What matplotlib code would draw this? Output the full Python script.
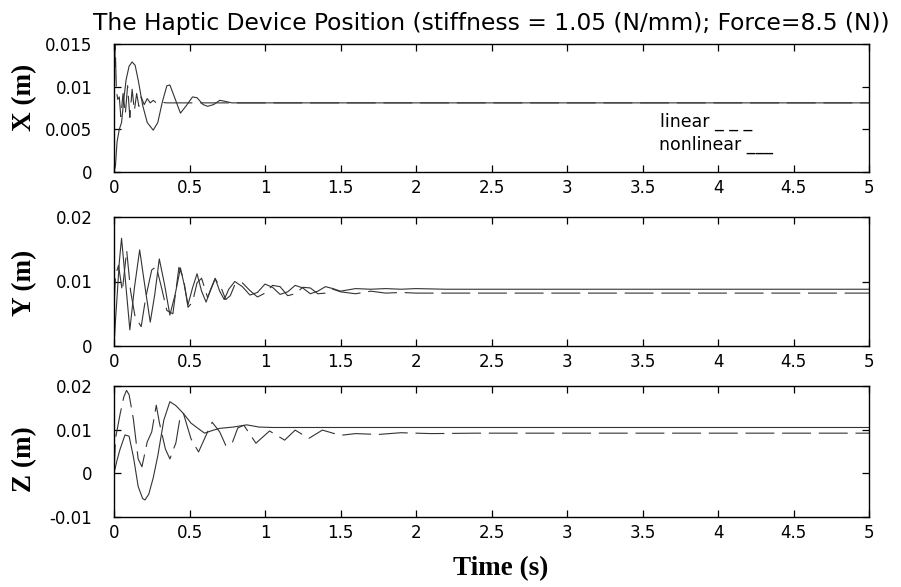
import matplotlib
matplotlib.use("Agg")
import matplotlib.pyplot as plt

# ---- data: haptic device position, linear vs nonlinear model ----
x_nl_t = [0, 0.01, 0.02, 0.035, 0.05, 0.065, 0.08, 0.1, 0.12, 0.14, 0.16, 0.19, 0.22, 0.26,
          0.29, 0.32, 0.35, 0.37, 0.4, 0.44, 0.48, 0.52, 0.55, 0.59, 0.62, 0.66, 0.7, 0.73,
          0.78, 0.85, 1.0, 5.0]
x_nl_v = [0, 0.0008, 0.0035, 0.005, 0.0058, 0.0085, 0.0108, 0.0124, 0.0129, 0.0125, 0.0108,
          0.0078, 0.0058, 0.0049, 0.0058, 0.0082, 0.0101, 0.0102, 0.0088, 0.0069, 0.0078,
          0.0088, 0.0087, 0.0079, 0.0077, 0.0079, 0.0084, 0.0083, 0.0081, 0.0081, 0.0081, 0.0081]
x_lin_t = [0, 0.008, 0.016, 0.025, 0.035, 0.045, 0.06, 0.075, 0.09, 0.105, 0.12, 0.135, 0.15,
           0.165, 0.18, 0.2, 0.22, 0.24, 0.26, 0.28, 0.3, 0.35, 5.0]
x_lin_v = [0.008, 0.015, 0.0095, 0.0085, 0.0088, 0.0065, 0.0092, 0.0068, 0.0101, 0.0064,
           0.0097, 0.0072, 0.0092, 0.0077, 0.0088, 0.0079, 0.0086, 0.0081, 0.0084, 0.0081,
           0.0082, 0.0081, 0.0081]

y_nl_t = [0, 0.01, 0.02, 0.035, 0.05, 0.08, 0.105, 0.135, 0.17, 0.2, 0.24, 0.27, 0.3, 0.335,
          0.37, 0.405, 0.44, 0.465, 0.49, 0.52, 0.55, 0.58, 0.61, 0.64, 0.67, 0.7, 0.73, 0.76,
          0.8, 0.85, 0.9, 0.95, 1.0, 1.05, 1.1, 1.15, 1.2, 1.25, 1.3, 1.35, 1.4, 1.45, 1.5,
          1.6, 1.7, 1.8, 1.9, 2.0, 2.2, 5.0]
y_nl_v = [0, 0.004, 0.0075, 0.013, 0.0167, 0.009, 0.0025, 0.009, 0.0149, 0.01, 0.0037, 0.008,
          0.0135, 0.0095, 0.0048, 0.008, 0.0121, 0.0095, 0.0064, 0.009, 0.0112, 0.0085, 0.0068,
          0.0088, 0.0105, 0.0085, 0.0072, 0.0088, 0.0100, 0.0092, 0.0079, 0.0083, 0.0096,
          0.0091, 0.0080, 0.0084, 0.0094, 0.009, 0.0081, 0.0085, 0.0092, 0.0089, 0.0085,
          0.0089, 0.0088, 0.0089, 0.0088, 0.0089, 0.0088, 0.0088]
y_lin_t = [0, 0.01, 0.03, 0.055, 0.084, 0.11, 0.14, 0.18, 0.21, 0.25, 0.28, 0.31, 0.35, 0.39,
           0.43, 0.46, 0.49, 0.52, 0.55, 0.58, 0.62, 0.67, 0.71, 0.74, 0.77, 0.8, 0.85, 0.9,
           0.95, 1.0, 1.05, 1.1, 1.15, 1.2, 1.25, 1.3, 1.35, 1.4, 1.45, 1.5, 1.6, 1.7, 1.8,
           1.9, 2.0, 2.2, 5.0]
y_lin_v = [0.006, 0.011, 0.0125, 0.0085, 0.0148, 0.0085, 0.0045, 0.003, 0.0075, 0.0118,
           0.0123, 0.0095, 0.0055, 0.005, 0.0122, 0.0105, 0.006, 0.0068, 0.0098, 0.0105,
           0.0075, 0.0104, 0.009, 0.0072, 0.0078, 0.0095, 0.0098, 0.0086, 0.0076, 0.0082,
           0.0094, 0.0092, 0.0078, 0.0081, 0.0091, 0.009, 0.0081, 0.0082, 0.0088, 0.0084,
           0.0081, 0.0085, 0.0082, 0.0083, 0.0082, 0.0082, 0.0082]

z_nl_t = [0, 0.02, 0.04, 0.073, 0.1, 0.13, 0.16, 0.19, 0.205, 0.23, 0.26, 0.29, 0.33, 0.37,
          0.41, 0.46, 0.51, 0.56, 0.6, 0.65, 0.7, 0.79, 0.88, 0.96, 1.05, 5.0]
z_nl_v = [0, 0.003, 0.0055, 0.0088, 0.0085, 0.0035, -0.003, -0.0058, -0.0061, -0.0048,
          -0.001, 0.004, 0.0122, 0.0164, 0.0155, 0.0137, 0.0115, 0.0102, 0.0092, 0.0098,
          0.0103, 0.0106, 0.0111, 0.0106, 0.0105, 0.0105]
z_lin_t = [0, 0.01, 0.04, 0.065, 0.083, 0.1, 0.128, 0.16, 0.185, 0.22, 0.25, 0.28, 0.3,
           0.34, 0.37, 0.41, 0.44, 0.46, 0.51, 0.56, 0.62, 0.65, 0.7, 0.74, 0.78, 0.82, 0.86,
           0.94, 1.03, 1.13, 1.2, 1.29, 1.38, 1.5, 1.6, 1.75, 1.9, 2.1, 2.4, 2.8, 3.2, 5.0]
z_lin_v = [0.0, 0.008, 0.0135, 0.0175, 0.019, 0.018, 0.0125, 0.0033, 0.0015, 0.0072, 0.0095,
           0.0156, 0.0117, 0.0056, 0.0033, 0.007, 0.0133, 0.0137, 0.0079, 0.0049, 0.0095,
           0.0117, 0.0095, 0.0064, 0.0067, 0.0104, 0.011, 0.0069, 0.0097, 0.0076, 0.0099,
           0.008, 0.0099, 0.0087, 0.0091, 0.0089, 0.0093, 0.0091, 0.0092, 0.0092, 0.0092, 0.0092]

x_ticks = [0, 0.5, 1, 1.5, 2, 2.5, 3, 3.5, 4, 4.5, 5]
x_ticklabels = ["0", "0.5", "1", "1.5", "2", "2.5", "3", "3.5", "4", "4.5", "5"]

panels = [
    ("X (m)", x_nl_t, x_nl_v, x_lin_t, x_lin_v, (0, 0.015),
     [0, 0.005, 0.01, 0.015], ["0", "0.005", "0.01", "0.015"]),
    ("Y (m)", y_nl_t, y_nl_v, y_lin_t, y_lin_v, (0, 0.02),
     [0, 0.01, 0.02], ["0", "0.01", "0.02"]),
    ("Z (m)", z_nl_t, z_nl_v, z_lin_t, z_lin_v, (-0.01, 0.02),
     [-0.01, 0, 0.01, 0.02], ["-0.01", "0", "0.01", "0.02"]),
]

W, H = 901, 587
fig = plt.figure(figsize=(W / 100, H / 100), dpi=100)
sans = "DejaVu Sans"
serif = "Liberation Serif"

# axes boxes in pixels: (top, bottom), plus the vertical centre of each y label
boxes = [(44, 172), (217, 346), (386, 517)]
label_centres = [97, 283, 459]
left_px, right_px = 114, 869

line_col = "#333333"
for (ylab, nt, nv, lt, lv, ylim, yt, ytl), (top, bot), yc in zip(panels, boxes, label_centres):
    ax = fig.add_axes([left_px / W, 1 - bot / H, (right_px - left_px) / W, (bot - top) / H])
    ax.plot(lt, lv, color=line_col, lw=0.8, dashes=(26, 7))
    ax.plot(nt, nv, color=line_col, lw=0.8)
    ax.set_xlim(0, 5)
    ax.set_ylim(*ylim)
    ax.set_xticks(x_ticks)
    ax.set_xticklabels(x_ticklabels, fontfamily=sans, fontsize=12)
    ax.set_yticks(yt)
    ax.set_yticklabels(ytl, fontfamily=sans, fontsize=12)
    ax.tick_params(direction="in", top=True, right=True, length=5, width=0.9)
    ax.tick_params(axis="y", pad=15.5)
    ax.tick_params(axis="x", pad=5)
    for s in ax.spines.values():
        s.set_linewidth(1.0)
    fig.text(25 / W, 1 - yc / H, ylab, rotation=90, ha="center", va="center",
             fontfamily=serif, fontweight="bold", fontsize=19.5)
    if ylab.startswith("X"):
        ax.text(0.723, 0.352, "linear _ _ _", transform=ax.transAxes, fontfamily=sans,
                fontsize=12.5, ha="left", va="baseline")
        ax.text(0.7215, 0.172, "nonlinear ___", transform=ax.transAxes, fontfamily=sans,
                fontsize=12.5, ha="left", va="baseline")

fig.text(491 / W, 1 - 30 / H,
         "The Haptic Device Position (stiffness = 1.05 (N/mm); Force=8.5 (N))",
         ha="center", va="baseline", fontfamily=sans, fontsize=16.8)
fig.text(501 / W, 1 - 569 / H, "Time (s)", ha="center", va="center",
         fontfamily=serif, fontweight="bold", fontsize=19.5)

fig.savefig("out.png", dpi=100, facecolor="white")
